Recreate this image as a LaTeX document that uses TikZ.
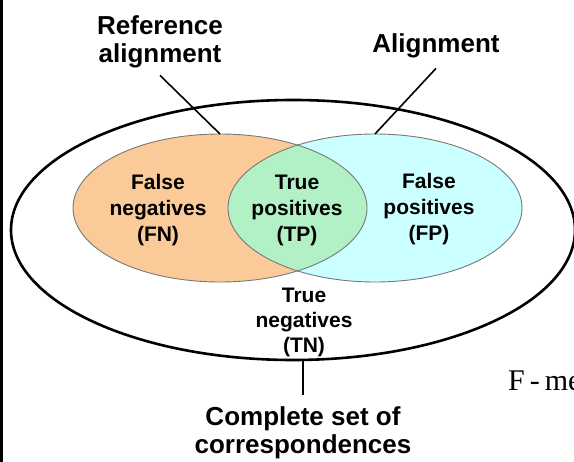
\documentclass[tikz,border=0pt]{standalone}
\usepackage{fontspec}
\setmainfont{Liberation Sans}
\newfontfamily\timesfont{Liberation Serif}
\usetikzlibrary{shapes.geometric}
\definecolor{fnfill}{RGB}{250,203,152}
\definecolor{fpfill}{RGB}{204,255,255}
\definecolor{tpfill}{RGB}{178,240,198}
\definecolor{rimgray}{RGB}{120,120,120}
\begin{document}
\begin{tikzpicture}[x=1pt,y=-1pt,
  setshape/.style={ellipse,inner sep=0pt,outer sep=0pt,minimum width=294pt,minimum height=148pt},
  setlabel/.style={font=\bfseries\fontsize{26}{28}\selectfont,align=center,inner sep=0pt},
  regionlabel/.style={font=\bfseries\fontsize{21}{26}\selectfont,align=center,inner sep=0pt},
  rim/.style={draw=rimgray,line width=0.9pt},
  leader/.style={line width=1.6pt}]
\useasboundingbox (0,0) rectangle (574,462);
\begin{scope}
\clip (0,0) rectangle (574,462);
% left rule
\fill (0,0) rectangle (3,462);
% universe of correspondences
\node[ellipse,draw,line width=2.6pt,minimum width=564pt,minimum height=260pt,inner sep=0pt,outer sep=0pt] (universe) at (293,230) {};
% reference alignment and alignment sets
\node[setshape,fill=fnfill] (refset) at (220,208) {};
\node[setshape,fill=fpfill] (alnset) at (375,208) {};
\begin{scope}
\clip (refset.center) ellipse [x radius=147pt, y radius=74pt];
\fill[tpfill] (alnset.center) ellipse [x radius=147pt, y radius=74pt];
\end{scope}
\draw[rim] (refset.center) ellipse [x radius=147pt, y radius=74pt];
\draw[rim] (alnset.center) ellipse [x radius=147pt, y radius=74pt];
% region texts
\node[regionlabel] (fnlbl) at (158,210) {False\\negatives\\(FN)};
\node[regionlabel] (tplbl) at (297,210) {True\\positives\\(TP)};
\node[regionlabel] (fplbl) at (429,209) {False\\positives\\(FP)};
\node[regionlabel,font=\bfseries\fontsize{21}{25}\selectfont] (tnlbl) at (304,322) {True\\negatives\\(TN)};
% set names with leaders
\node[setlabel] (reflbl) at (160,42) {Reference\\alignment};
\node[setlabel] (alnlbl) at (436,46) {Alignment};
\node[setlabel] (alllbl) at (303,433) {Complete set of\\correspondences};
\draw[leader] ([yshift=-7pt]reflbl.south) -- (refset.north);
\draw[leader] ([yshift=-10pt]alnlbl.south) -- (alnset.north);
\draw[leader] (alllbl.north |- universe.south) -- ([yshift=12pt]alllbl.north);
% formula fragment at the right edge
\node[font=\timesfont\fontsize{30}{30}\selectfont,anchor=base west,inner sep=0pt] (fmeasure) at (508,391) {{\spaceskip=5pt F - me}};
\end{scope}
\end{tikzpicture}
\end{document}
